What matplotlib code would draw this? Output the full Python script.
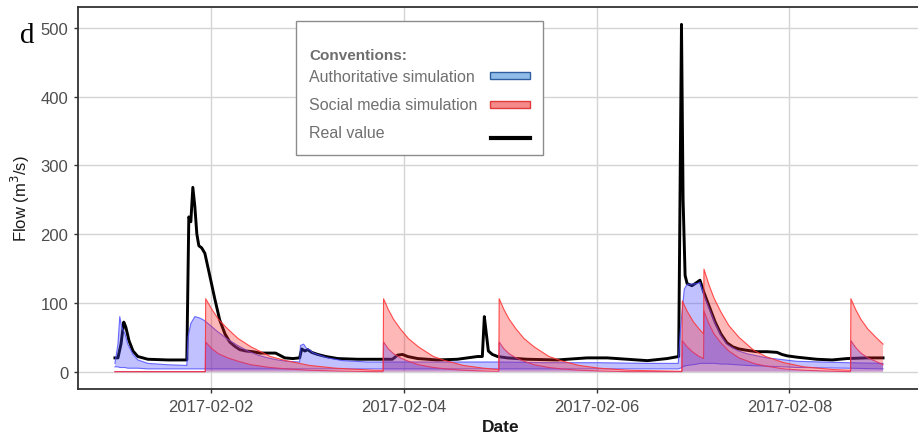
import matplotlib
matplotlib.use("Agg")
import matplotlib.pyplot as plt
import matplotlib.dates as mdates
from matplotlib.patches import Rectangle
from matplotlib.lines import Line2D
import pandas as pd

plt.rcParams['font.family'] = ['Liberation Sans', 'DejaVu Sans']

START = pd.Timestamp("2017-02-01 00:00")

# ---- Real value (observed flow) ----
real_hours = [0, 0.75, 1.5, 2.2, 2.7, 3.5, 4.5, 5.7, 8.2, 13.2, 17.9, 18.4, 18.9, 19.4, 19.9,
              20.4, 20.9, 21.6, 22.4, 23.6, 24.9, 26.1, 27.4, 28.6, 29.8, 31.1, 32.6, 34.3,
              36.1, 38.1, 40.0, 41.0, 42.3, 44.3, 46.0, 46.5, 47.3, 48.0, 49.0, 50.5, 52.5,
              55.5, 60.4, 65.4, 69.1, 70.4, 71.6, 72.9, 75.4, 80.3, 85.3, 90.3, 91.5, 92.0,
              92.5, 93.0, 94.0, 95.3, 97.7, 102.7, 110.2, 117.6, 122.6, 127.6, 132.6, 137.5,
              140.4, 140.8, 141.1, 141.5, 142.0, 142.5, 143.7, 145.0, 145.7, 146.7, 148.0,
              149.5, 150.9, 152.4, 153.9, 155.4, 157.4, 159.9, 162.4, 164.9, 166.1, 167.4,
              169.9, 174.8, 178.6, 182.3, 187.3, 191.3]
real_flow = [20, 20, 40, 72, 65, 45, 30, 22, 18, 17, 17, 225, 218, 268, 240,
             200, 183, 180, 172, 140, 105, 75, 55, 43, 37, 32, 30, 29,
             27, 27, 27, 24, 20, 19, 20, 33, 30, 32, 28, 25, 22,
             19, 18, 18, 18, 24, 25, 22, 19, 17, 18, 22, 22, 80,
             55, 30, 25, 22, 20, 18, 17, 20, 20, 18, 16, 19,
             22, 300, 505, 250, 140, 128, 125, 130, 133, 115, 95,
             72, 55, 42, 36, 33, 31, 29, 29, 28, 25, 23,
             21, 18, 17, 19, 20, 20]

# ---- Authoritative simulation (ribbon) ----
blue_hours = [0, 0.75, 1.2, 1.7, 2.5, 3.2, 4.5, 5.7, 8.2, 13.2, 17.9, 18.2, 18.9, 19.9, 21.1,
              22.1, 23.6, 25.6, 28.1, 30.6, 33.1, 35.6, 38.1, 40.5, 43.0, 46.0, 46.2, 47.0,
              47.8, 48.5, 49.2, 50.5, 53.0, 56.7, 62.9, 70.4, 82.8, 95.3, 107.7, 120.2, 132.6,
              140.3, 140.8, 141.8, 142.5, 145.0, 145.7, 146.7, 148.0, 149.5, 150.9, 152.4,
              154.9, 157.4, 162.4, 169.9, 182.3, 191.3]
blue_upper = [12, 40, 80, 65, 55, 40, 25, 17, 12, 10, 9, 50, 70, 80, 78,
              75, 68, 58, 47, 38, 30, 24, 20, 17, 15, 14, 38, 40,
              33, 32, 28, 25, 20, 16, 14, 14, 14, 14, 13, 13, 12,
              12, 60, 120, 127, 128, 130, 112, 92, 70, 53, 40,
              31, 26, 20, 15, 13, 12]
blue_lower = [7, 7, 6, 6, 6, 5, 5, 5, 4, 4, 4, 4, 4, 4, 4,
              4, 4, 4, 4, 4, 4, 4, 4, 4, 4, 4, 4, 4,
              4, 4, 4, 4, 4, 4, 4, 4, 4, 4, 4, 4, 4,
              4, 5, 8, 9, 11, 12, 12, 12, 12, 11, 11,
              10, 9, 8, 6, 5, 4]

# ---- Social media simulation (ribbon) ----
red_hours = [0, 22.5, 22.6, 24.2, 25.8, 28.1, 30.7, 33.9, 38.7, 42.6, 48.5, 55.0, 64.6,
             66.8, 66.9, 68.1, 69.4, 71.1, 73.1, 75.6, 79.3, 82.3, 86.8, 91.8, 95.6,
             95.7, 96.9, 98.2, 99.9, 101.9, 104.4, 108.1, 111.1, 115.6, 120.6, 128.0, 141.2,
             141.3, 142.5, 144.0, 145.5, 146.6, 146.7, 147.9, 149.2, 150.9, 152.9, 155.4,
             159.1, 162.1, 166.6, 171.6, 179.0, 183.2,
             183.3, 184.5, 185.8, 187.5, 189.5, 191.3]
red_upper = [0, 0, 106, 90, 76, 62, 48, 36, 22, 16, 9, 5, 2,
             2, 106, 90, 76, 62, 48, 36, 22, 16, 9, 5, 3,
             106, 90, 76, 62, 48, 36, 22, 16, 9, 5, 2, 0.5,
             103, 88, 73, 62, 55, 149, 127, 107, 87, 67, 50,
             31, 22, 13, 7, 3, 2,
             106, 90, 76, 62, 50, 40]
red_lower = [0, 0, 43, 33, 26, 20, 15, 10, 6, 4, 2, 1, 0,
             0, 43, 33, 26, 20, 15, 10, 6, 4, 2, 1, 0.5,
             43, 33, 26, 20, 15, 10, 6, 4, 2, 1, 0, 0,
             45, 36, 28, 22, 19, 88, 70, 55, 42, 30, 20,
             12, 8, 4, 2, 0.5, 0,
             45, 35, 27, 20, 15, 10]

y_ticks = [0, 100, 200, 300, 400, 500]
x_ticks = ["2017-02-02", "2017-02-04", "2017-02-06", "2017-02-08"]

legend_title = "Conventions:"
legend_labels = ["Authoritative simulation", "Social media simulation", "Real value"]


def to_time(hours):
    return START + pd.to_timedelta(hours, unit="h")


W, H = 918, 439
fig = plt.figure(figsize=(W / 100, H / 100), dpi=100)
ax = fig.add_axes([78 / W, 1 - 390 / H, (924 - 78) / W, (390 - 8) / H])

BLUE_FILL, RED_FILL = "#4444ff", "#ff2222"

ax.plot(to_time(real_hours), real_flow, color="black", lw=2.1, zorder=3,
        solid_joinstyle="round")
ax.fill_between(to_time(blue_hours), blue_lower, blue_upper, facecolor=BLUE_FILL,
                alpha=0.33, edgecolor="none", zorder=4)
ax.plot(to_time(blue_hours), blue_upper, color="#4a4aff", lw=0.8, alpha=0.8, zorder=4)
ax.plot(to_time(blue_hours), blue_lower, color="#4a4aff", lw=0.8, alpha=0.8, zorder=4)
ax.fill_between(to_time(red_hours), 0, red_upper, facecolor=RED_FILL,
                alpha=0.32, edgecolor="none", zorder=5)
# band under the social-media lower member (appears violet)
ax.fill_between(to_time(red_hours), 0, red_lower, facecolor=BLUE_FILL,
                alpha=0.3, edgecolor="none", zorder=6)
ax.plot(to_time(red_hours), red_upper, color="#ff3030", lw=0.8, alpha=0.85, zorder=6)
ax.plot(to_time(red_hours), red_lower, color="#e03060", lw=0.8, alpha=0.85, zorder=6)

ax.set_ylim(-25.25, 530.25)
ax.set_xlim(to_time(-9.2), to_time(201.5))
ax.set_yticks(y_ticks)
ax.set_xticks(pd.to_datetime(x_ticks))
ax.xaxis.set_major_formatter(mdates.DateFormatter("%Y-%m-%d"))
ax.grid(True, color="#d4d4d4", lw=1.0, zorder=0)
ax.set_axisbelow(True)
for s in ax.spines.values():
    s.set_color("#333333")
    s.set_linewidth(1.3)
ax.tick_params(axis="both", colors="#333333", labelcolor="#4d4d4d", labelsize=12,
               length=3, width=1, pad=4)

ax.set_xlabel("Date", fontsize=12.5, fontweight="bold", color="#1a1a1a", labelpad=4)
ax.set_ylabel("Flow (m$^3$/s)", fontsize=12, color="#1a1a1a", labelpad=6)

fig.text(20 / W, 1 - 36 / H, "d", family=["Liberation Serif", "DejaVu Serif"],
         fontsize=21, va="center", ha="left", color="black")

# legend box
fig.patches.append(Rectangle((296 / W, 1 - 156 / H), 247 / W, 134 / H,
                             transform=fig.transFigure, facecolor="white",
                             edgecolor="#8c8c8c", lw=1.0, zorder=10))
fig.text(309 / W, 1 - 56 / H, legend_title, fontsize=11, fontweight="bold",
         color="#6e6e6e", va="center", ha="left", zorder=11)
for lab, yy in zip(legend_labels, [78, 105, 134]):
    fig.text(309 / W, 1 - yy / H, lab, fontsize=11.5, color="#707070",
             va="center", ha="left", zorder=11)
fig.patches.append(Rectangle((490 / W, 1 - 80 / H), 40 / W, 7 / H,
                             transform=fig.transFigure, facecolor="#8fbde8",
                             edgecolor="#2f5f9e", lw=1.0, zorder=11))
fig.patches.append(Rectangle((490 / W, 1 - 109 / H), 40 / W, 7 / H,
                             transform=fig.transFigure, facecolor="#f48a8a",
                             edgecolor="#e03a3a", lw=1.0, zorder=11))
fig.lines.append(Line2D([491 / W, 530 / W], [1 - 139 / H, 1 - 139 / H],
                        transform=fig.transFigure, color="black", lw=3, zorder=11))

fig.savefig("out.png", dpi=100)
